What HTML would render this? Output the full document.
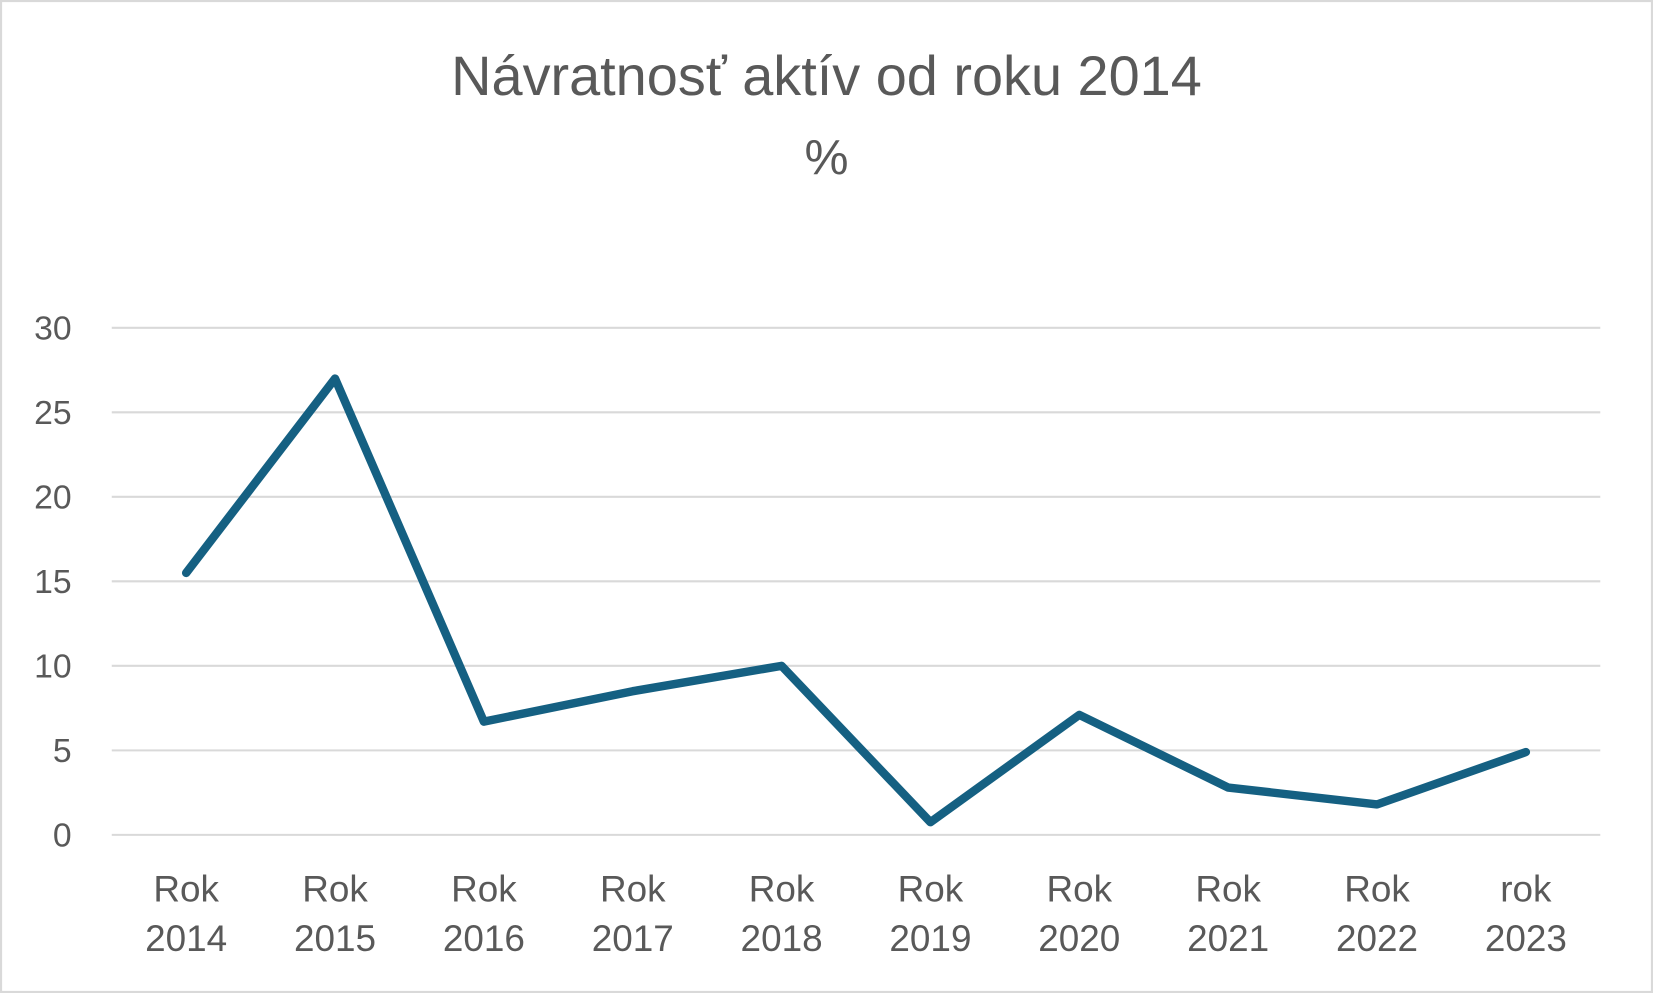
<!DOCTYPE html>
<html><head><meta charset="utf-8"><style>
html,body{margin:0;padding:0;background:#fff;}
svg{display:block;font-family:"Liberation Sans",sans-serif;}
</style></head><body>
<svg id="chart" width="1653" height="993" viewBox="0 0 1568 942" preserveAspectRatio="none">
<rect x="1" y="1" width="1566" height="940" fill="#fff" stroke="#d9d9d9" stroke-width="2"/>
<text x="784" y="90" text-anchor="middle" font-size="53" fill="#595959">Návratnosť aktív od roku 2014</text>
<text x="784" y="165" text-anchor="middle" font-size="47" fill="#595959">%</text>
<g id="grid"></g><g id="yt"></g><g id="xt"></g><g id="series"></g>
</svg>
<script>
const categories=[["Rok","2014"],["Rok","2015"],["Rok","2016"],["Rok","2017"],["Rok","2018"],["Rok","2019"],["Rok","2020"],["Rok","2021"],["Rok","2022"],["rok","2023"]];
const values=[15.5,27.0,6.7,8.5,10.0,0.75,7.1,2.8,1.8,4.9];
const yTicks=[0,5,10,15,20,25,30];
const NS="http://www.w3.org/2000/svg";
const x0=106,x1=1518,yTop=311,yBot=792,yMax=30;
const y=v=>yBot-(v/yMax)*(yBot-yTop);
const step=(x1-x0)/categories.length;
const x=i=>x0+step*(i+0.5);
function mk(t,a,p){const e=document.createElementNS(NS,t);for(const k in a)e.setAttribute(k,a[k]);p.appendChild(e);return e;}
const grid=document.getElementById('grid'),yt=document.getElementById('yt'),xt=document.getElementById('xt'),ser=document.getElementById('series');
yTicks.forEach(v=>{
 const l=mk('line',{x1:x0,x2:x1,y1:y(v),y2:y(v),stroke:'#d9d9d9','stroke-width':2},grid);
 
 
 const t=mk('text',{x:68,y:y(v)+11,'text-anchor':'end','font-size':32,fill:'#595959'},yt);
 t.textContent=v;
 
 
});
categories.forEach((c,i)=>{
 const t=mk('text',{x:x(i),'text-anchor':'middle','font-size':35,fill:'#595959'},xt);
 
 
 const a=mk('tspan',{x:x(i),y:855},t);a.textContent=c[0];
 const b=mk('tspan',{x:x(i),y:902},t);b.textContent=c[1];
});
const p=mk('polyline',{points:values.map((v,i)=>x(i)+','+y(v)).join(' '),fill:'none',stroke:'#156082','stroke-width':8,'stroke-linejoin':'round','stroke-linecap':'round'},ser);


</script>
</body></html>
